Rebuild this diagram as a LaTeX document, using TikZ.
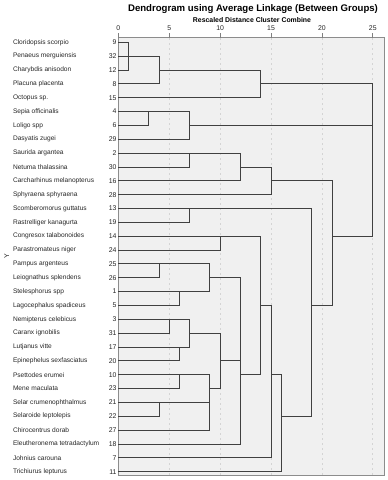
\documentclass[tikz,border=0pt]{standalone}
\usepackage{fontspec}
\setmainfont{Liberation Sans}
\begin{document}
\begin{tikzpicture}[x=1pt,y=-1pt,
  every node/.style={inner sep=0pt, outer sep=0pt},
  sp/.style={anchor=west, font=\fontsize{6.6}{8}\selectfont, text=black!85},
  num/.style={anchor=east, font=\fontsize{6.9}{8}\selectfont, text=black!85},
  ticklab/.style={font=\fontsize{6.9}{8}\selectfont, text=black!85},
  dl/.style={draw=black!75, line width=0.9pt},
  gridl/.style={draw=black!17, dash pattern=on 2pt off 3pt, line width=0.8pt}]
\useasboundingbox (0,0) rectangle (388,480);
\node[font=\bfseries\fontsize{9.6}{11}\selectfont] (title) at (253,9) {Dendrogram using Average Linkage (Between Groups)};
\node[font=\bfseries\fontsize{6.9}{8}\selectfont] (sub) at (252,20.5) {Rescaled Distance Cluster Combine};
\draw[fill=black!6, draw=black!45, line width=0.8pt] (118.3,37.7) rectangle (384.5,475.5);
\foreach \d in {0,5,10,15,20,25}{
  \pgfmathsetmacro\xx{118.3+10.18*\d}
  \draw[draw=black!50, line width=0.7pt] (\xx,33) -- (\xx,37.7);
  \node[ticklab] (t\d) at (\xx,28.3) {\d};
}
\foreach \d in {5,10,15,20,25}{
  \pgfmathsetmacro\xx{118.3+10.18*\d}
  \draw[gridl] (\xx,38.2) -- (\xx,475);
}
\foreach \i/\s/\n in {0/Cloridopsis scorpio/9, 1/Penaeus merguiensis/32, 2/Charybdis anisodon/12, 3/Placuna placenta/8, 4/Octopus sp./15, 5/Sepia officinalis/4, 6/Loligo spp/6, 7/Dasyatis zugei/29, 8/Saurida argantea/2, 9/Netuma thalassina/30, 10/Carcharhinus melanopterus/16, 11/Sphyraena sphyraena/28, 12/Scomberomorus guttatus/13, 13/Rastrelliger kanagurta/19, 14/Congresox talabonoides/14, 15/Parastromateus niger/24, 16/Pampus argenteus/25, 17/Leiognathus splendens/26, 18/Stelesphorus spp/1, 19/Lagocephalus spadiceus/5, 20/Nemipterus celebicus/3, 21/Caranx ignobilis/31, 22/Lutjanus vitte/17, 23/Epinephelus sexfasciatus/20, 24/Psettodes erumei/10, 25/Mene maculata/23, 26/Selar crumenophthalmus/21, 27/Selaroide leptolepis/22, 28/Chirocentrus dorab/27, 29/Eleutheronema tetradactylum/18, 30/Johnius carouna/7, 31/Trichiurus lepturus/11}{
  \node[sp] (s\i) at (13,{42.3+13.85*\i}) {\s};
  \node[num] (n\i) at (116.5,{42.3+13.85*\i}) {\n};
}
\node[rotate=90, font=\fontsize{7}{8}\selectfont, text=black!85] (ylab) at (6.7,256) {Y};
\begin{scope}[xshift=118.3pt, yshift=-42.3pt, x=10.18pt, y=-13.85pt]
\foreach \i in {0,...,31}{\coordinate (L\i) at (0,\i);}
\draw[dl] (L0) -- (1,0) |- (L2);
\draw[dl] (L1) -- (4,1) |- (L3);
\draw[dl] (4,2) -- (14,2) |- (L4);
\draw[dl] (14,3) -- (25,3) |- (21,14);
\draw[dl] (L5) -- (7,5) |- (L7);
\draw[dl] (L6) -| (3,5);
\draw[dl] (7,6) -- (25,6);
\draw[dl] (L8) -- (12,8) |- (L10);
\draw[dl] (L9) -| (7,8);
\draw[dl] (12,9) -- (15,9) |- (L11);
\draw[dl] (15,10) -- (21,10) |- (19,19);
\draw[dl] (L12) -- (19,12) |- (16,27);
\draw[dl] (L13) -| (7,12);
\draw[dl] (L14) -- (14,14) |- (12,24);
\draw[dl] (L15) -| (10,14);
\draw[dl] (L16) -- (9,16) |- (L18);
\draw[dl] (L17) -| (4,16);
\draw[dl] (L19) -| (6,18);
\draw[dl] (9,17) -- (12,17) |- (L29);
\draw[dl] (L20) -- (7,20) |- (L22);
\draw[dl] (L21) -| (5,20);
\draw[dl] (L23) -| (6,22);
\draw[dl] (7,21) -- (10,21) |- (9,25);
\draw[dl] (10,23) -- (12,23);
\draw[dl] (L24) -- (9,24) |- (L28);
\draw[dl] (L25) -| (6,24);
\draw[dl] (L26) -- (9,26);
\draw[dl] (L27) -| (4,26);
\draw[dl] (14,19) -- (15,19) |- (L30);
\draw[dl] (15,24) -- (16,24) |- (L31);
\end{scope}
\end{tikzpicture}
\end{document}
